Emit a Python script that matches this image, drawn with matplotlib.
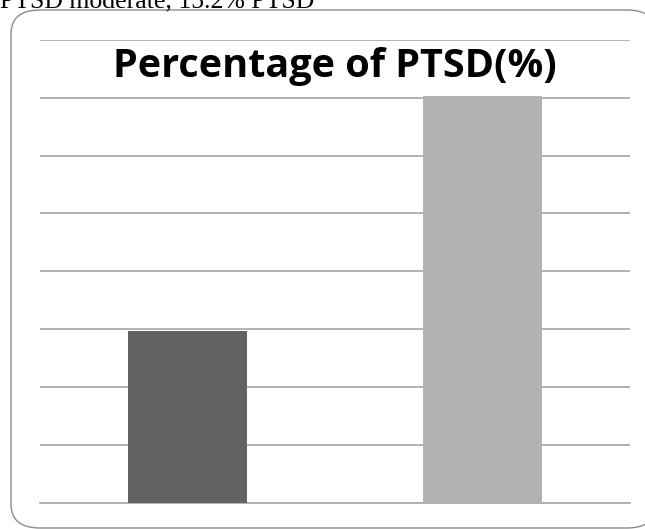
import matplotlib.pyplot as plt
from matplotlib.patches import FancyBboxPatch

categories = ["PTSD moderate", "PTSD"]
values = [29.7, 70.3]
bar_colors = ["#636363", "#b2b2b2"]
y_ticks = [0, 10, 20, 30, 40, 50, 60, 70, 80]

W, H = 645, 529
fig = plt.figure(figsize=(W / 100, H / 100), dpi=100)

# caption fragment from the page above the chart
fig.text(0 / W, 1 - 7 / H, "PTSD moderate, 15.2% PTSD", family="Liberation Serif",
         fontsize=18.5, ha="left", va="baseline", color="black")

# rounded chart frame
frame = FancyBboxPatch((11 / W, 1 - 528 / H), 645 / W, 518 / H,
                       boxstyle="round,pad=0,rounding_size=0.045",
                       transform=fig.transFigure, facecolor="white",
                       edgecolor="#8c8c8c", linewidth=1.0, clip_on=False,
                       zorder=-1)
fig.patches.append(frame)

ax = fig.add_axes([40 / W, 1 - 503 / H, 590 / W, (503 - 39.7) / H])
ax.set_zorder(2)
ax.set_facecolor("none")
x = [0.5, 1.5]
ax.bar(x, values, width=0.402, color=bar_colors, zorder=3)
ax.set_xlim(0, 2)
ax.set_ylim(y_ticks[0], y_ticks[-1])
ax.set_yticks(y_ticks)
ax.grid(axis="y", color="#a6a6a6", linewidth=1.2, zorder=0)
ax.set_axisbelow(True)
ax.tick_params(left=False, bottom=False, labelleft=False, labelbottom=False)
for side in ["left", "right", "top"]:
    ax.spines[side].set_visible(False)
ax.spines["bottom"].set_color("#a6a6a6")
ax.spines["bottom"].set_linewidth(1.2)

fig.text(335 / W, 1 - 67 / H, "Percentage of PTSD(%)", family="Open Sans",
         fontweight="bold", fontsize=28.5, ha="center", va="center", color="black",
         zorder=5)

fig.savefig("out.png", dpi=100)
